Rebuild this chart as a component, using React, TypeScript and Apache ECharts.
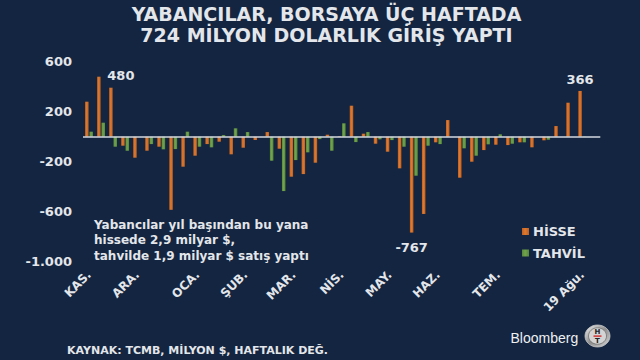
import React, { useEffect, useRef } from 'react';
import * as echarts from 'echarts';

const weeks = [
  '6 Kas', '13 Kas', '20 Kas', '27 Kas', '4 Ara', '11 Ara', '18 Ara', '25 Ara',
  '1 Oca', '8 Oca', '15 Oca', '22 Oca', '29 Oca', '5 Şub', '12 Şub', '19 Şub',
  '26 Şub', '4 Mar', '11 Mar', '18 Mar', '25 Mar', '1 Nis', '8 Nis', '15 Nis',
  '22 Nis', '29 Nis', '6 May', '13 May', '20 May', '27 May', '3 Haz', '10 Haz',
  '17 Haz', '24 Haz', '1 Tem', '8 Tem', '15 Tem', '22 Tem', '29 Tem', '5 Ağu',
  '12 Ağu', '19 Ağu',
];

const hisse = [
  280, 480, 392, -72, -168, -112, -80, -585, -240, -152, -59, -40, -141, -88,
  -27, 37, -96, -320, -299, -208, 16, 5, 248, 24, -56, -120, -253, -767, -618,
  -45, 133, -328, -200, -107, -64, -67, -45, -85, -29, 85, 272, 366,
];

const tahvil = [
  40, 112, -80, -112, 0, -59, -101, -99, 40, -80, -85, 13, 67, 37,
  0, -192, -435, -187, -125, -19, -112, 107, -43, 37, -21, -27, -80, -312, -72,
  -59, 0, -93, -152, -61, 19, -56, -45, 0, -24, 0, 0, -3,
];

const monthTickIndex = [0, 4, 9, 13, 17, 21, 25, 29, 34, 41];
const monthTickText = ['KAS.', 'ARA.', 'OCA.', 'ŞUB.', 'MAR.', 'NİS.', 'MAY.', 'HAZ.', 'TEM.', '19 Ağu.'];
const labeledWeeks = [1, 27, 41];

const yMin = -1000;
const yMax = 600;
const yStep = 400;

const titleText = 'YABANCILAR, BORSAYA ÜÇ HAFTADA\n724 MİLYON DOLARLIK GİRİŞ YAPTI';
const noteText = 'Yabancılar yıl başından bu yana\nhissede 2,9 milyar $,\ntahvilde 1,9 milyar $ satış yaptı';
const sourceText = 'KAYNAK: TCMB, MİLYON $, HAFTALIK DEĞ.';

const BG = '#132540';
const TXT = '#e3e6ea';
const ORANGE = '#c25f1c';
const GREEN = '#578838';
const FONT = '"DejaVu Sans", Verdana, sans-serif';

export default function App() {
  const ref = useRef<HTMLDivElement>(null);

  useEffect(() => {
    document.body.style.margin = '0';
    const chart = echarts.init(ref.current!, null, { renderer: 'svg' });

    const barGrad = (c1: string, c2: string) =>
      new echarts.graphic.LinearGradient(0, 0, 1, 0, [
        { offset: 0, color: c2 },
        { offset: 0.45, color: c1 },
        { offset: 1, color: c2 },
      ]);

    const labelOffset = (i: number) => (i === 1 ? [22, 10] : i === 27 ? [0, 3] : [0, 0]);

    const hisseData = hisse.map((v, i) =>
      labeledWeeks.includes(i)
        ? {
            value: v,
            label: {
              show: true,
              position: 'outside',
              offset: labelOffset(i),
              color: TXT,
              fontFamily: FONT,
              fontWeight: 'bold',
              fontSize: 13,
              formatter: (p: any) => String(p.value),
            },
          }
        : v
    );

    chart.setOption({
      animation: false,
      backgroundColor: BG,
      textStyle: { fontFamily: FONT },
      grid: { left: 83, right: 39.7, top: 61.7, bottom: 98.3, containLabel: false },
      legend: {
        data: ['HİSSE', 'TAHVİL'],
        orient: 'vertical',
        left: 522,
        top: 225,
        padding: 0,
        itemWidth: 7,
        itemHeight: 7,
        itemGap: 8.5,
        icon: 'rect',
        textStyle: { color: TXT, fontFamily: FONT, fontWeight: 'bold', fontSize: 13, lineHeight: 13, padding: [0, 0, 0, -1] },
      },
      xAxis: {
        type: 'category',
        data: [...weeks, ''],
        axisLine: { show: false },
        axisTick: { show: false },
        splitLine: { show: false },
        axisLabel: {
          interval: 0,
          rotate: 45,
          margin: 11,
          color: TXT,
          fontFamily: FONT,
          fontWeight: 'bold',
          fontSize: 12,
          formatter: (_v: string, idx: number) => {
            const k = monthTickIndex.indexOf(idx);
            return k >= 0 ? monthTickText[k] : '';
          },
        },
      },
      yAxis: {
        type: 'value',
        min: yMin,
        max: yMax,
        interval: yStep,
        axisLine: { show: false },
        axisTick: { show: false },
        splitLine: { show: false },
        axisLabel: {
          margin: 11,
          color: TXT,
          fontFamily: FONT,
          fontWeight: 'bold',
          fontSize: 13,
          formatter: (v: number) => String(v).replace(/\B(?=(\d{3})+(?!\d))/g, '.'),
        },
      },
      series: [
        {
          name: 'HİSSE',
          type: 'bar',
          data: hisseData,
          barWidth: 3.5,
          barGap: '25%',
          itemStyle: { color: barGrad('#dc7a33', ORANGE) },
          markLine: {
            silent: true,
            symbol: 'none',
            label: { show: false },
            lineStyle: { color: '#d3d8df', width: 1.5, type: 'solid' },
            data: [{ yAxis: 0 }],
          },
        },
        {
          name: 'TAHVİL',
          type: 'bar',
          data: tahvil,
          barWidth: 3.5,
          itemStyle: { color: barGrad('#72a44f', GREEN) },
        },
      ],
      color: [ORANGE, GREEN],
      graphic: [
        {
          type: 'text',
          x: 326.5,
          y: 3,
          style: {
            text: titleText,
            align: 'center',
            verticalAlign: 'top',
            fill: TXT,
            fontFamily: FONT,
            fontWeight: 'bold',
            fontSize: 19,
            lineHeight: 21,
          },
        },
        {
          type: 'text',
          x: 94,
          y: 217,
          style: {
            text: noteText,
            align: 'left',
            verticalAlign: 'top',
            fill: TXT,
            fontFamily: FONT,
            fontWeight: 'bold',
            fontSize: 12,
            lineHeight: 15.5,
          },
        },
        {
          type: 'text',
          x: 67,
          y: 344,
          style: {
            text: sourceText,
            align: 'left',
            verticalAlign: 'top',
            fill: TXT,
            fontFamily: FONT,
            fontWeight: 'bold',
            fontSize: 11,
            lineHeight: 13,
          },
        },
        {
          type: 'text',
          x: 510.5,
          y: 330,
          style: {
            text: 'Bloomberg',
            align: 'left',
            verticalAlign: 'top',
            fill: '#eef0f2',
            fontFamily: '"Liberation Sans", Arial, sans-serif',
            fontSize: 14,
            lineHeight: 16,
          },
        },
        {
          type: 'group',
          children: [
            {
              type: 'ellipse',
              shape: { cx: 597.5, cy: 336, rx: 12.5, ry: 11 },
              style: {
                fill: new echarts.graphic.LinearGradient(0, 0, 1, 1, [
                  { offset: 0, color: '#f2f2f2' },
                  { offset: 0.5, color: '#8d8d8d' },
                  { offset: 1, color: '#d8d8d8' },
                ]),
                stroke: '#c9c9c9',
                lineWidth: 0.8,
              },
            },
            {
              type: 'ellipse',
              shape: { cx: 597.5, cy: 336, rx: 9, ry: 8.2 },
              style: { fill: '#d4d4d4', stroke: '#555', lineWidth: 0.6 },
            },
            {
              type: 'text',
              x: 597.5,
              y: 331.5,
              style: { text: 'H', align: 'center', verticalAlign: 'middle', fill: '#222', fontFamily: FONT, fontWeight: 'bold', fontSize: 7 },
            },
            {
              type: 'rect',
              shape: { x: 593.5, y: 335.4, width: 8, height: 1.4 },
              style: { fill: '#d0282a' },
            },
            {
              type: 'text',
              x: 597.5,
              y: 340.5,
              style: { text: 'T', align: 'center', verticalAlign: 'middle', fill: '#222', fontFamily: FONT, fontWeight: 'bold', fontSize: 7 },
            },
          ],
        },
      ],
    });

    return () => chart.dispose();
  }, []);

  return <div ref={ref} style={{ position: 'absolute', left: 0, top: 0, width: 640, height: 360 }} />;
}
